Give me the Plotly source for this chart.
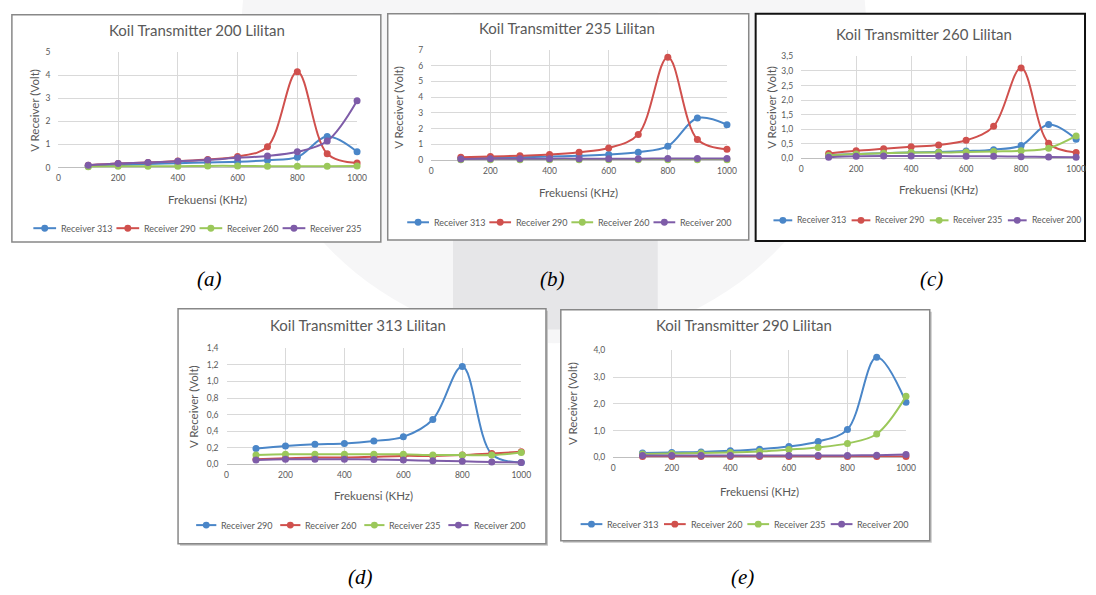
import plotly.graph_objects as go

freq = [100, 200, 300, 400, 500, 600, 700, 800, 900, 1000]

# (a) Koil Transmitter 200 Lilitan
a_names = ["Receiver 313", "Receiver 290", "Receiver 260", "Receiver 235"]
a_r313 = [0.05, 0.10, 0.15, 0.19, 0.22, 0.25, 0.32, 0.45, 1.34, 0.68]
a_r290 = [0.10, 0.17, 0.22, 0.28, 0.35, 0.48, 0.90, 4.15, 0.60, 0.20]
a_r260 = [0.03, 0.05, 0.06, 0.06, 0.07, 0.07, 0.06, 0.06, 0.06, 0.07]
a_r235 = [0.10, 0.17, 0.22, 0.27, 0.33, 0.42, 0.50, 0.68, 1.15, 2.90]

# (b) Koil Transmitter 235 Lilitan
b_names = ["Receiver 313", "Receiver 290", "Receiver 260", "Receiver 200"]
b_r313 = [0.10, 0.13, 0.17, 0.22, 0.28, 0.35, 0.50, 0.88, 2.67, 2.25]
b_r290 = [0.17, 0.22, 0.28, 0.35, 0.50, 0.77, 1.63, 6.54, 1.31, 0.69]
b_r260 = [0.02, 0.02, 0.02, 0.02, 0.02, 0.02, 0.02, 0.02, 0.02, 0.02]
b_r200 = [0.07, 0.08, 0.08, 0.09, 0.09, 0.09, 0.09, 0.10, 0.10, 0.10]

# (c) Koil Transmitter 260 Lilitan
c_names = ["Receiver 313", "Receiver 290", "Receiver 235", "Receiver 200"]
c_r313 = [0.12, 0.15, 0.18, 0.20, 0.22, 0.25, 0.30, 0.44, 1.16, 0.66]
c_r290 = [0.17, 0.26, 0.33, 0.40, 0.46, 0.62, 1.10, 3.10, 0.52, 0.20]
c_r235 = [0.10, 0.15, 0.18, 0.20, 0.20, 0.22, 0.24, 0.26, 0.35, 0.77]
c_r200 = [0.04, 0.07, 0.08, 0.08, 0.08, 0.07, 0.07, 0.06, 0.05, 0.04]

# (d) Koil Transmitter 313 Lilitan
d_names = ["Receiver 290", "Receiver 260", "Receiver 235", "Receiver 200"]
d_r290 = [0.19, 0.22, 0.24, 0.25, 0.28, 0.33, 0.54, 1.18, 0.12, 0.02]
d_r260 = [0.06, 0.07, 0.08, 0.08, 0.09, 0.10, 0.10, 0.11, 0.13, 0.15]
d_r235 = [0.11, 0.12, 0.12, 0.12, 0.12, 0.12, 0.11, 0.11, 0.11, 0.14]
d_r200 = [0.05, 0.06, 0.06, 0.06, 0.055, 0.05, 0.04, 0.035, 0.025, 0.02]

# (e) Koil Transmitter 290 Lilitan
e_names = ["Receiver 313", "Receiver 260", "Receiver 235", "Receiver 200"]
e_r313 = [0.16, 0.18, 0.20, 0.24, 0.30, 0.40, 0.59, 1.04, 3.74, 2.06]
e_r260 = [0.03, 0.03, 0.03, 0.03, 0.03, 0.03, 0.03, 0.03, 0.03, 0.03]
e_r235 = [0.12, 0.14, 0.16, 0.18, 0.22, 0.29, 0.37, 0.52, 0.87, 2.28]
e_r200 = [0.07, 0.07, 0.07, 0.07, 0.07, 0.07, 0.07, 0.07, 0.08, 0.10]

titles = ["Koil Transmitter 200 Lilitan", "Koil Transmitter 235 Lilitan",
          "Koil Transmitter 260 Lilitan", "Koil Transmitter 313 Lilitan",
          "Koil Transmitter 290 Lilitan"]
panel_labels = ["(a)", "(b)", "(c)", "(d)", "(e)"]
x_title = "Frekuensi (KHz)"
y_title = "V Receiver (Volt)"
x_ticks = [0, 200, 400, 600, 800, 1000]

series = [
    (a_names, [a_r313, a_r290, a_r260, a_r235]),
    (b_names, [b_r313, b_r290, b_r260, b_r200]),
    (c_names, [c_r313, c_r290, c_r235, c_r200]),
    (d_names, [d_r290, d_r260, d_r235, d_r200]),
    (e_names, [e_r313, e_r260, e_r235, e_r200]),
]
y_max = [5, 7, 3.5, 1.4, 4.0]
y_dtick = [1, 1, 0.5, 0.2, 1.0]
y_fmt = ["d", "d", ".1f", ".1f", ".1f"]

colors = ["#4A86C8", "#D0504D", "#9BC85A", "#7E5CA8"]

W, H = 1096, 595
FONT = "Lato"
GREY = "#595959"

# pixel geometry (plot areas, boxes)
plots = [(57, 359, 48, 165.3), (434, 733, 45.7, 157.7), (808, 1086, 52.3, 156),
         (227, 525, 349.3, 467), (618, 914, 351.3, 460)]
boxes = [(10, 383, 10, 241), (390, 755, 9, 239), (762, 1095, 9, 240),
         (178, 550, 309, 548), (565, 938, 310, 545)]
box_shadow = [False, False, False, True, True]
title_pos = [(197, 25), (571, 23), (932, 29), (360, 325), (750, 325)]
xt_pos = [(208, 197.5), (583, 190.5), (947, 188), (376, 498.5), (766, 494.5)]
yt_pos = [(33, 107), (401, 104), (778, 104), (193, 408), (577, 405)]
# legend: first key start x, row y, text offset, item pitch
leg_geo = [(31.7, 227, 26, 84), (409.7, 221, 25, 83), (780, 219, 22, 79),
           (196.3, 529, 23.4, 85), (585, 528, 25, 84.3)]
leg_font = [9, 9, 8.6, 9, 9]
lab_pos = [(210, 278.5), (557, 278.5), (940, 278.5), (362, 582), (749, 582)]
box_col = ["#888888", "#888888", "#111111", "#888888", "#888888"]
box_w = [1.5, 1.5, 2, 1.5, 1.5]


def px(x):
    return x / W


def py(y):
    return 1 - y / H


fig = go.Figure()
shapes = []
annots = []
layout = dict(width=W, height=H, margin=dict(l=0, r=0, t=0, b=0),
              paper_bgcolor="white", plot_bgcolor="rgba(0,0,0,0)",
              separators=",.", font=dict(family=FONT, color=GREY), showlegend=False)

# faint watermark behind the panels
shapes.append(dict(type="circle", xref="paper", yref="paper",
                   x0=px(558 - 316), x1=px(558 + 316), y0=py(28 + 316), y1=py(28 - 316),
                   fillcolor="#f6f6f7", line=dict(width=0), layer="below"))
shapes.append(dict(type="rect", xref="paper", yref="paper",
                   x0=px(456), x1=px(663), y0=py(330), y1=py(8),
                   fillcolor="#e6e6e8", line=dict(width=0), layer="below"))


def ann(text, x, y, size, color=GREY, family=FONT, angle=0, xanchor="center"):
    annots.append(dict(text=text, x=px(x), y=py(y), xref="paper", yref="paper",
                       showarrow=False, xanchor=xanchor, yanchor="middle",
                       textangle=angle, font=dict(size=size, color=color, family=family)))


for i in range(5):
    k = "" if i == 0 else str(i + 1)
    x0, x1, y0, y1 = plots[i]
    bx0, bx1, by0, by1 = boxes[i]
    if box_shadow[i]:
        shapes.append(dict(type="rect", xref="paper", yref="paper",
                           x0=px(bx0 + 2), x1=px(bx1 + 2), y0=py(by1 + 2), y1=py(by0 + 2),
                           fillcolor="#c4c4c4", line=dict(width=0), layer="below"))
    shapes.append(dict(type="rect", xref="paper", yref="paper",
                       x0=px(bx0), x1=px(bx1), y0=py(by1), y1=py(by0),
                       fillcolor="white", line=dict(color=box_col[i], width=box_w[i]),
                       layer="below"))
    layout["xaxis" + k] = dict(domain=[px(x0), px(x1)], anchor="y" + k, range=[0, 1000],
                               tickvals=x_ticks, showgrid=True, gridcolor="#d9d9d9", gridwidth=1,
                               zeroline=True, zerolinecolor="rgba(0,0,0,0)", showline=False,
                               ticks="", ticklabelstandoff=4,
                               tickfont=dict(size=8.5, color=GREY), fixedrange=True)
    layout["yaxis" + k] = dict(domain=[py(y1), py(y0)], anchor="x" + k, range=[0, y_max[i]],
                               dtick=y_dtick[i], tick0=0, tickformat=y_fmt[i], showgrid=True,
                               gridcolor="#d9d9d9", gridwidth=1, zeroline=True,
                               zerolinecolor="#bfbfbf", zerolinewidth=1, showline=False,
                               ticks="", ticklabelstandoff=7,
                               tickfont=dict(size=8.5, color=GREY), fixedrange=True)
    ann(titles[i], *title_pos[i], 15)
    ann(x_title, *xt_pos[i], 11.5)
    ann(y_title, *yt_pos[i], 11.5, angle=-90)
    ann("<i>" + panel_labels[i] + "</i>", *lab_pos[i], 21, color="black",
        family="Liberation Serif")

    names, vals = series[i]
    sx, sy, off, pitch = leg_geo[i]
    for j in range(4):
        fig.add_trace(go.Scatter(x=freq, y=vals[j], name=names[j], mode="lines+markers",
                                 line=dict(color=colors[j], width=2, shape="spline",
                                           smoothing=1),
                                 marker=dict(color=colors[j], size=7),
                                 xaxis="x" + k, yaxis="y" + k,
                                 cliponaxis=False, hoverinfo="skip"))
        # legend key (line + dot) and label
        lx = sx + j * pitch
        shapes.append(dict(type="line", xref="paper", yref="paper",
                           x0=px(lx), x1=px(lx + off - 3), y0=py(sy), y1=py(sy),
                           line=dict(color=colors[j], width=2)))
        c = lx + (off - 3) / 2
        shapes.append(dict(type="circle", xref="paper", yref="paper",
                           x0=px(c - 3.5), x1=px(c + 3.5), y0=py(sy + 3.5), y1=py(sy - 3.5),
                           fillcolor=colors[j], line=dict(width=0)))
        ann(names[j], lx + off, sy, leg_font[i], xanchor="left")

layout["shapes"] = shapes
layout["annotations"] = annots
fig.update_layout(**layout)

# remove the browser's default 8px body margin so the figure fills the window exactly
page_css = "document.body.style.margin='0';document.body.style.overflow='hidden';"
fig.write_html("out.html", post_script=page_css,
               config={"displayModeBar": False, "staticPlot": True})
